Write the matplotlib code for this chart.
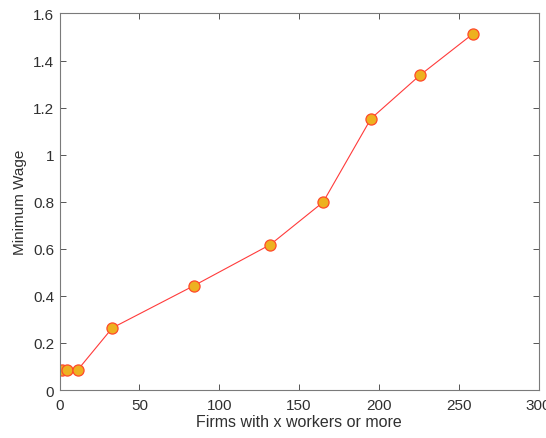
import matplotlib
matplotlib.use("Agg")
import matplotlib.pyplot as plt

# Firm-size threshold (workers) and the corresponding minimum wage
firm_size = [1.6, 4.8, 11.5, 33, 84, 132, 165, 195, 225.6, 258.8]
min_wage = [0.087, 0.087, 0.087, 0.264, 0.443, 0.618, 0.798, 1.153, 1.337, 1.513]

xticks = [0, 50, 100, 150, 200, 250, 300]
yticks = [0, 0.2, 0.4, 0.6, 0.8, 1.0, 1.2, 1.4, 1.6]
ytick_labels = ["0", "0.2", "0.4", "0.6", "0.8", "1", "1.2", "1.4", "1.6"]

plt.rcParams["font.family"] = ["Liberation Sans", "DejaVu Sans"]

fig = plt.figure(figsize=(5.46, 4.39), dpi=100)
ax = fig.add_axes([0.1093, 0.1093, 0.8770, 0.8577])

ax.plot(firm_size, min_wage, color="#ff3b3b", linewidth=0.8,
        marker="o", markersize=8, markerfacecolor="#edb120",
        markeredgecolor="#ff4a2a", markeredgewidth=0.9)

ax.set_xlim(0, 300)
ax.set_ylim(0, 1.6)
ax.set_xticks(xticks)
ax.set_yticks(yticks)
ax.set_yticklabels(ytick_labels)

axis_gray = "#7a7a7a"
for side in ax.spines.values():
    side.set_color(axis_gray)
    side.set_linewidth(0.8)
text_color = "#303030"
ax.tick_params(direction="in", top=True, right=True, length=4, width=0.7,
               color="#555555", labelcolor=text_color, labelsize=11)
ax.tick_params(axis="x", pad=6)
ax.tick_params(axis="y", pad=4)

ax.set_xlabel("Firms with x workers or more", fontsize=11.5, color=text_color,
              labelpad=1.5)
ax.set_ylabel("Minimum Wage", fontsize=11, color=text_color, labelpad=4)

fig.savefig("out.png", dpi=100)
